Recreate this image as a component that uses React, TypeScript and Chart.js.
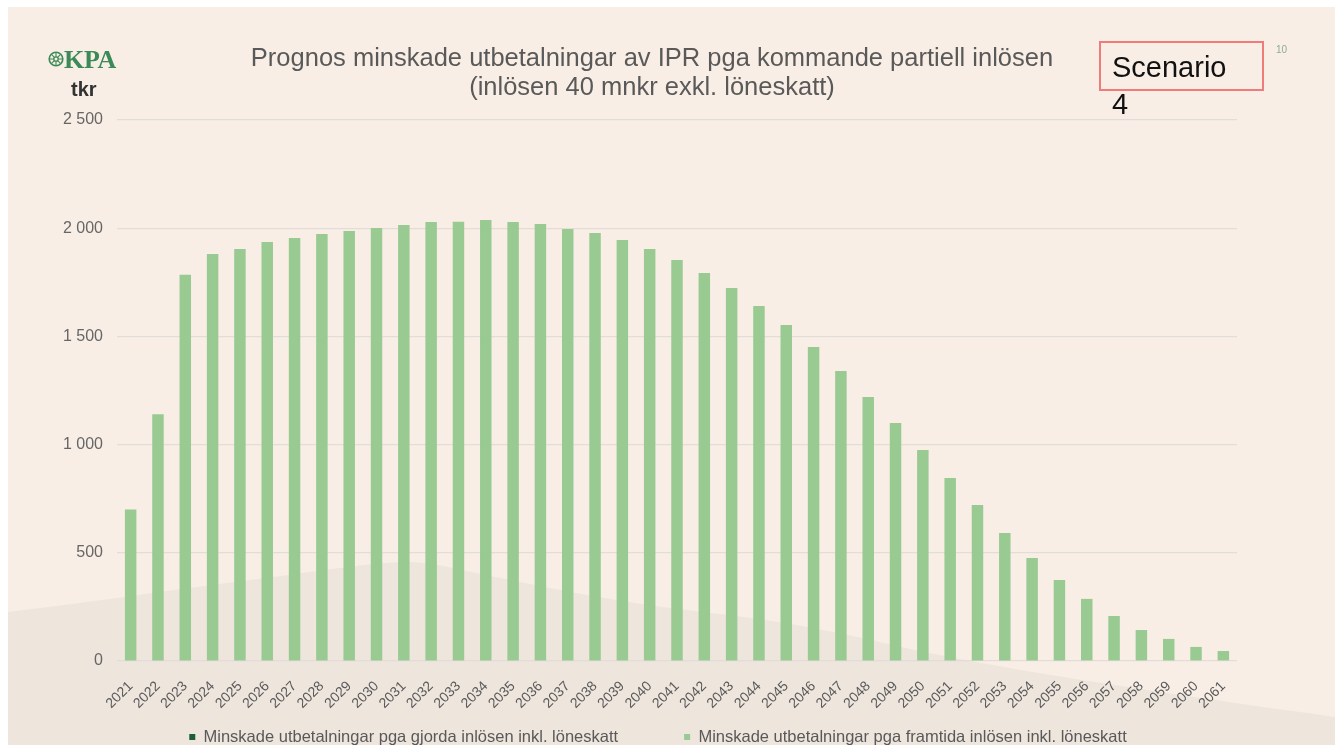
import { useEffect, useRef } from 'react';
import { Chart, registerables } from 'chart.js';

Chart.register(...registerables);

// ---- Data ----
const YEARS = [
  '2021', '2022', '2023', '2024', '2025', '2026', '2027', '2028', '2029', '2030',
  '2031', '2032', '2033', '2034', '2035', '2036', '2037', '2038', '2039', '2040',
  '2041', '2042', '2043', '2044', '2045', '2046', '2047', '2048', '2049', '2050',
  '2051', '2052', '2053', '2054', '2055', '2056', '2057', '2058', '2059', '2060',
  '2061',
];

const GJORDA = [
  0, 0, 0, 0, 0, 0, 0, 0, 0, 0,
  0, 0, 0, 0, 0, 0, 0, 0, 0, 0,
  0, 0, 0, 0, 0, 0, 0, 0, 0, 0,
  0, 0, 0, 0, 0, 0, 0, 0, 0, 0,
  0,
];

const FRAMTIDA = [
  700, 1140, 1785, 1881, 1904, 1936, 1955, 1973, 1987, 2001,
  2015, 2029, 2030, 2038, 2029, 2019, 1996, 1978, 1945, 1904,
  1853, 1793, 1724, 1640, 1553, 1451, 1340, 1220, 1100, 975,
  846, 721, 591, 476, 374, 287, 208, 143, 102, 65,
  46,
];

const Y_TICKS = [0, 500, 1000, 1500, 2000, 2500];

const SERIES_GJORDA = 'Minskade utbetalningar pga gjorda inlösen inkl. löneskatt';
const SERIES_FRAMTIDA = 'Minskade utbetalningar pga framtida inlösen inkl. löneskatt';
const TITLE_1 = 'Prognos minskade utbetalningar av IPR pga kommande partiell inlösen';
const TITLE_2 = '(inlösen 40 mnkr exkl. löneskatt)';
const UNIT = 'tkr';
const SCENARIO = 'Scenario 4';
const PAGE_NO = '10';

// ---- Layout ----
const W = 1327;
const H = 738;
const X_AXIS_H = 60;
const LEGEND_BOX_H = H - 654 - X_AXIS_H;
const LEGEND_PAD = 66;
const LEGEND_FONT = 16.5;
const LEGEND_TEXT_Y = 730;
const LEGEND_LEFT = 71;
const LEGEND_RIGHT = 1229;
const FONT = '"Liberation Sans", Arial, sans-serif';

function fmt(v: number) {
  const s = String(Math.round(v));
  return s.replace(/\B(?=(\d{3})+(?!\d))/g, ' ');
}

export default function App() {
  const ref = useRef<HTMLCanvasElement | null>(null);

  useEffect(() => {
    if (!ref.current) return;
    const legendFit = {
      id: 'legendFit',
      beforeLayout(chart: any) {
        const lg = chart.legend;
        if (lg && !lg._patched) {
          const orig = lg.fit;
          lg.fit = function () {
            orig.call(this);
            this.height = LEGEND_BOX_H;
          };
          lg._patched = true;
        }
      },
      afterLayout(chart: any) {
        const lg = chart.legend;
        if (!lg) return;
        const top = LEGEND_TEXT_Y - LEGEND_PAD - LEGEND_FONT / 2;
        lg.top = top;
        lg.bottom = H;
        lg.height = H - top;
        lg.left = LEGEND_LEFT;
        lg.right = LEGEND_RIGHT;
        lg.width = LEGEND_RIGHT - LEGEND_LEFT;
      },
    };

    const chart = new Chart(ref.current, {
      type: 'bar',
      data: {
        labels: YEARS,
        datasets: [
          {
            label: SERIES_GJORDA,
            data: GJORDA,
            backgroundColor: '#1f5c3a',
            barPercentage: 0.42,
            categoryPercentage: 1,
          },
          {
            label: SERIES_FRAMTIDA,
            data: FRAMTIDA,
            backgroundColor: '#98ca92',
            barPercentage: 0.42,
            categoryPercentage: 1,
          },
        ],
      },
      options: {
        responsive: false,
        animation: false,
        layout: { padding: { left: 20, right: 98, top: 113, bottom: 0 } },
        plugins: {
          legend: {
            position: 'bottom',
            labels: {
              boxWidth: 6,
              boxHeight: 6,
              padding: LEGEND_PAD,
              color: '#595959',
              font: { family: FONT, size: LEGEND_FONT },
            },
          },
          tooltip: { enabled: false },
          title: { display: false },
        },
        scales: {
          x: {
            stacked: true,
            grid: { display: false },
            border: { display: false },
            ticks: {
              autoSkip: false,
              minRotation: 45,
              maxRotation: 45,
              padding: 9,
              color: '#595959',
              font: { family: FONT, size: 14 },
            },
            afterFit: (s: any) => {
              s.height = X_AXIS_H;
            },
          },
          y: {
            stacked: true,
            min: 0,
            max: 2500,
            afterBuildTicks: (s: any) => {
              s.ticks = Y_TICKS.map((v) => ({ value: v }));
            },
            ticks: {
              padding: 14,
              color: '#666666',
              font: { family: FONT, size: 16 },
              callback: (v: any) => fmt(Number(v)),
            },
            grid: { color: '#e2ddd8', drawTicks: false, lineWidth: 1.2 },
            border: { display: false },
            afterFit: (s: any) => {
              s.width = 89;
            },
          },
        },
      },
      plugins: [legendFit],
    } as any);
    return () => chart.destroy();
  }, []);

  const wave =
    'M0,605 C60,598 150,585 242,573 C300,566 350,557 392,555 C420,554 445,561 492,571 ' +
    'C540,581 590,591 640,598 C700,606 760,612 800,620 C840,628 860,632 880,637 ' +
    'C960,655 1040,668 1100,677 C1180,689 1260,701 1327,710 L1327,738 L0,738 Z';

  return (
    <div
      style={{
        position: 'fixed',
        left: 8,
        top: 7,
        width: W,
        height: H,
        background: '#f8eee5',
        overflow: 'hidden',
        fontFamily: FONT,
      }}
    >
      <svg width={W} height={H} style={{ position: 'absolute', left: 0, top: 0 }}>
        <path d={wave} fill="#eee5dd" />
      </svg>
      <canvas
        ref={ref}
        width={W}
        height={H}
        style={{ position: 'absolute', left: 0, top: 0, width: W, height: H }}
      />
      {/* Logo */}
      <svg width={16} height={16} style={{ position: 'absolute', left: 40, top: 44 }} viewBox="0 0 16 16">
        <circle cx="8" cy="8" r="6.8" fill="none" stroke="#3b8a57" strokeWidth="1.6" />
        <circle cx="8" cy="8" r="2.2" fill="none" stroke="#3b8a57" strokeWidth="1.3" />
        <path d="M8 1.5 L8 5.8 M8 10.2 L8 14.5 M1.5 8 L5.8 8 M10.2 8 L14.5 8 M3.4 3.4 L6.4 6.4 M9.6 9.6 L12.6 12.6 M12.6 3.4 L9.6 6.4 M6.4 9.6 L3.4 12.6" stroke="#3b8a57" strokeWidth="1.1" />
      </svg>
      <div
        style={{
          position: 'absolute',
          left: 56,
          top: 38,
          fontFamily: '"Liberation Serif", "DejaVu Serif", serif',
          fontSize: 26,
          fontWeight: 'bold',
          lineHeight: '30px',
          color: '#3b8a57',
          letterSpacing: '-0.3px',
        }}
      >
        KPA
      </div>
      <div
        style={{
          position: 'absolute',
          left: 63,
          top: 70,
          fontSize: 20,
          lineHeight: '24px',
          fontWeight: 'bold',
          color: '#333333',
        }}
      >
        {UNIT}
      </div>
      {/* Title */}
      <div
        style={{
          position: 'absolute',
          left: 0,
          top: 35.5,
          width: 1288,
          textAlign: 'center',
          fontSize: 25.5,
          lineHeight: '29px',
          color: '#595959',
        }}
      >
        <div>{TITLE_1}</div>
        <div>{TITLE_2}</div>
      </div>
      {/* Scenario box */}
      <div
        style={{
          position: 'absolute',
          left: 1091,
          top: 34,
          width: 165,
          height: 50,
          boxSizing: 'border-box',
          border: '2px solid #ef7b7b',
        }}
      />
      <div
        style={{
          position: 'absolute',
          left: 1104,
          top: 41.5,
          width: 130,
          fontSize: 29,
          lineHeight: '37px',
          color: '#111111',
        }}
      >
        {SCENARIO}
      </div>
      <div
        style={{
          position: 'absolute',
          left: 1268,
          top: 37,
          fontSize: 10,
          color: '#8aae94',
        }}
      >
        {PAGE_NO}
      </div>
    </div>
  );
}
